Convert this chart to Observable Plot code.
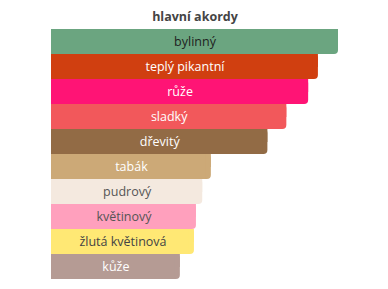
<!DOCTYPE html>
<html>
<head>
<meta charset="utf-8">
<script src="https://cdn.jsdelivr.net/npm/d3@7"></script>
<script src="https://cdn.jsdelivr.net/npm/@observablehq/plot@0.6"></script>
<style>
body { margin: 0; background: #fff; }
</style>
</head>
<body>
<div id="chart"></div>
<script>
const categories = ["bylinný", "teplý pikantní", "růže", "sladký", "dřevitý", "tabák", "pudrový", "květinový", "žlutá květinová", "kůže"];
const values = [100, 93.0, 89.6, 82.0, 75.4, 55.7, 52.7, 50.5, 49.8, 44.9];
const colors = ["#6ba580", "#d03f10", "#ff1475", "#f2585b", "#926b45", "#cca977", "#f4e9df", "#ffa0bd", "#ffe874", "#b59b94"];
const textColors = ["#1e1e1e", "#ffffff", "#ffffff", "#ffffff", "#ffffff", "#ffffff", "#555555", "#555555", "#444444", "#ffffff"];
const title = "hlavní akordy";

const data = categories.map((c, i) => ({cat: c, value: values[i], color: colors[i], tc: textColors[i]}));

const chart = Plot.plot({
  width: 388,
  height: 289,
  marginLeft: 51,
  marginRight: 50,
  marginTop: 29,
  marginBottom: 10,
  style: {fontFamily: "'Open Sans', sans-serif", fontSize: "12px"},
  x: {domain: [0, 100], axis: null},
  y: {domain: categories, axis: null, padding: 0},
  marks: [
    Plot.barX(data, {y: "cat", x: "value", fill: "color", rx: 4}),
    Plot.barX(data, {y: "cat", x: "value", fill: "color", insetBottom: 12}),
    Plot.barX(data, {y: "cat", x: "value", fill: "color", insetRight: 5}),
    Plot.text(data, {y: "cat", x: d => d.value / 2, text: "cat", fill: "tc", fontSize: 12.5}),
    Plot.text([title], {frameAnchor: "top", dy: -17, fontWeight: "bold", fontSize: 12.5, fill: "#444"})
  ]
});
document.getElementById("chart").appendChild(chart);
</script>
</body>
</html>
